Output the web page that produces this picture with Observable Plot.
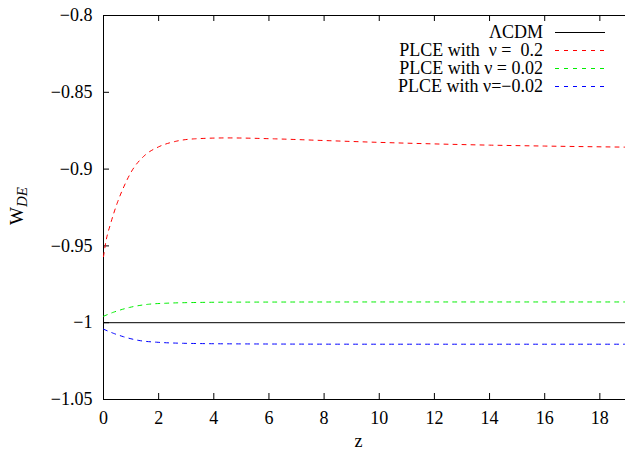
<!DOCTYPE html>
<html><head><meta charset="utf-8">
<script src="https://cdn.jsdelivr.net/npm/d3@7"></script>
<script src="https://cdn.jsdelivr.net/npm/@observablehq/plot@0.6"></script>
<style>html,body{margin:0;padding:0;background:#fff;overflow:hidden}
svg text{font-family:'Liberation Serif','Times New Roman',serif !important;}</style>
</head><body><div id="chart"></div>
<script>
// ---- data ----
const seriesNames = ["ΛCDM", "PLCE with  ν =  0.2", "PLCE with ν = 0.02", "PLCE with ν=−0.02"];
const seriesColors = ["#000000", "#ff0000", "#00ee00", "#0000ff"];
const seriesDash = [null, "4,5", "4,5", "4,5"];

const zLCDM = [0, 18.93];
const wLCDM = [-1, -1];

const zRed = [0, 0.1, 0.25, 0.5, 0.75, 1.0, 1.5, 2.0, 2.6, 3.3, 4.5, 6.2, 8, 10, 12, 14, 16, 18.93];
const wRed = [-0.957, -0.946, -0.936, -0.922, -0.911, -0.902, -0.891, -0.8855, -0.882, -0.8803, -0.8797, -0.8803, -0.8814, -0.8826, -0.8836, -0.8844, -0.885, -0.8857];

const zGreen = [0, 0.36, 0.96, 1.63, 2.3, 3.14, 5, 10, 18.93];
const wGreen = [-0.9958, -0.9932, -0.990, -0.988, -0.9873, -0.9869, -0.9866, -0.9865, -0.9865];

const zBlue = [0, 0.36, 0.72, 1.33, 1.93, 2.9, 4.96, 10, 18.93];
const wBlue = [-1.0042, -1.0069, -1.0091, -1.0117, -1.0127, -1.0134, -1.0138, -1.014, -1.014];

const xTicks = [0, 2, 4, 6, 8, 10, 12, 14, 16, 18];
const yTicks = [-1.05, -1, -0.95, -0.9, -0.85, -0.8];

// ---- layout ----
const W = 625, H = 457, mL = 103, mR = 0, mT = 15, mB = 58;
const plotH = H - mT - mB, plotW = W - mL - mR;
const tl = 6;
const font = "'Liberation Serif','Times New Roman',serif";

const rows = (zs, ws) => zs.map((z, i) => ({z, w: ws[i]}));
const series = [rows(zLCDM, wLCDM), rows(zRed, wRed), rows(zGreen, wGreen), rows(zBlue, wBlue)];

const fmt = d => String(d).replace("-", "\u2212");

const chart = Plot.plot({
  width: W, height: H,
  marginLeft: mL, marginRight: mR, marginTop: mT, marginBottom: mB,
  style: {fontFamily: font, fontSize: "18px", background: "#fff", color: "#000"},
  x: {domain: [0, 18.93]},
  y: {domain: [-1.05, -0.8]},
  marks: [
    Plot.axisX(xTicks, {tickSize: 0, tickPadding: 12, label: null, fontSize: 18, fontFamily: font, tickFormat: fmt}),
    Plot.axisY(yTicks, {tickSize: 0, tickPadding: 11, label: null, fontSize: 18, fontFamily: font, tickFormat: fmt}),
    Plot.tickX(xTicks, {x: d => d, insetTop: plotH - tl, stroke: "#000"}),
    Plot.tickX(xTicks, {x: d => d, insetBottom: plotH - tl, stroke: "#000"}),
    Plot.tickY(yTicks, {y: d => d, insetRight: plotW - tl, stroke: "#000"}),
    Plot.ruleX([0], {stroke: "#000"}),
    Plot.ruleY([-1.05, -0.8], {stroke: "#000"}),
    ...series.map((data, i) => Plot.line(data, {
      x: "z", y: "w", stroke: seriesColors[i], strokeWidth: 1,
      strokeDasharray: seriesDash[i], curve: "monotone-x"
    })),
    Plot.text(["z"], {text: d => d, frameAnchor: "bottom", dy: 47, dx: -6, fontSize: 18, fontFamily: font})
  ]
});

document.getElementById("chart").appendChild(chart);

// ---- y-axis label W_DE ----
const svg = d3.select(chart);
const yl = svg.append("text")
  .attr("transform", "translate(23,206) rotate(-90)")
  .attr("text-anchor", "middle")
  .attr("font-family", font)
  .attr("fill", "#000");
yl.append("tspan").attr("font-size", 19).text("W");
yl.append("tspan").attr("font-size", 15).attr("font-style", "italic").attr("dy", 4).text("DE");

// ---- legend ----
const lg = svg.append("g").attr("font-family", font).attr("font-size", 18);
seriesNames.forEach((name, i) => {
  const ly = 32 + 18 * i;
  lg.append("text")
    .attr("x", 543).attr("y", ly + 6.3)
    .attr("text-anchor", "end")
    .style("white-space", "pre")
    .attr("xml:space", "preserve")
    .attr("fill", "#000")
    .text(name);
  lg.append("line")
    .attr("x1", 555).attr("x2", 605)
    .attr("y1", ly + 0.5).attr("y2", ly + 0.5)
    .attr("stroke", seriesColors[i])
    .attr("stroke-width", 1)
    .attr("stroke-dasharray", seriesDash[i]);
});
</script>
</body></html>
